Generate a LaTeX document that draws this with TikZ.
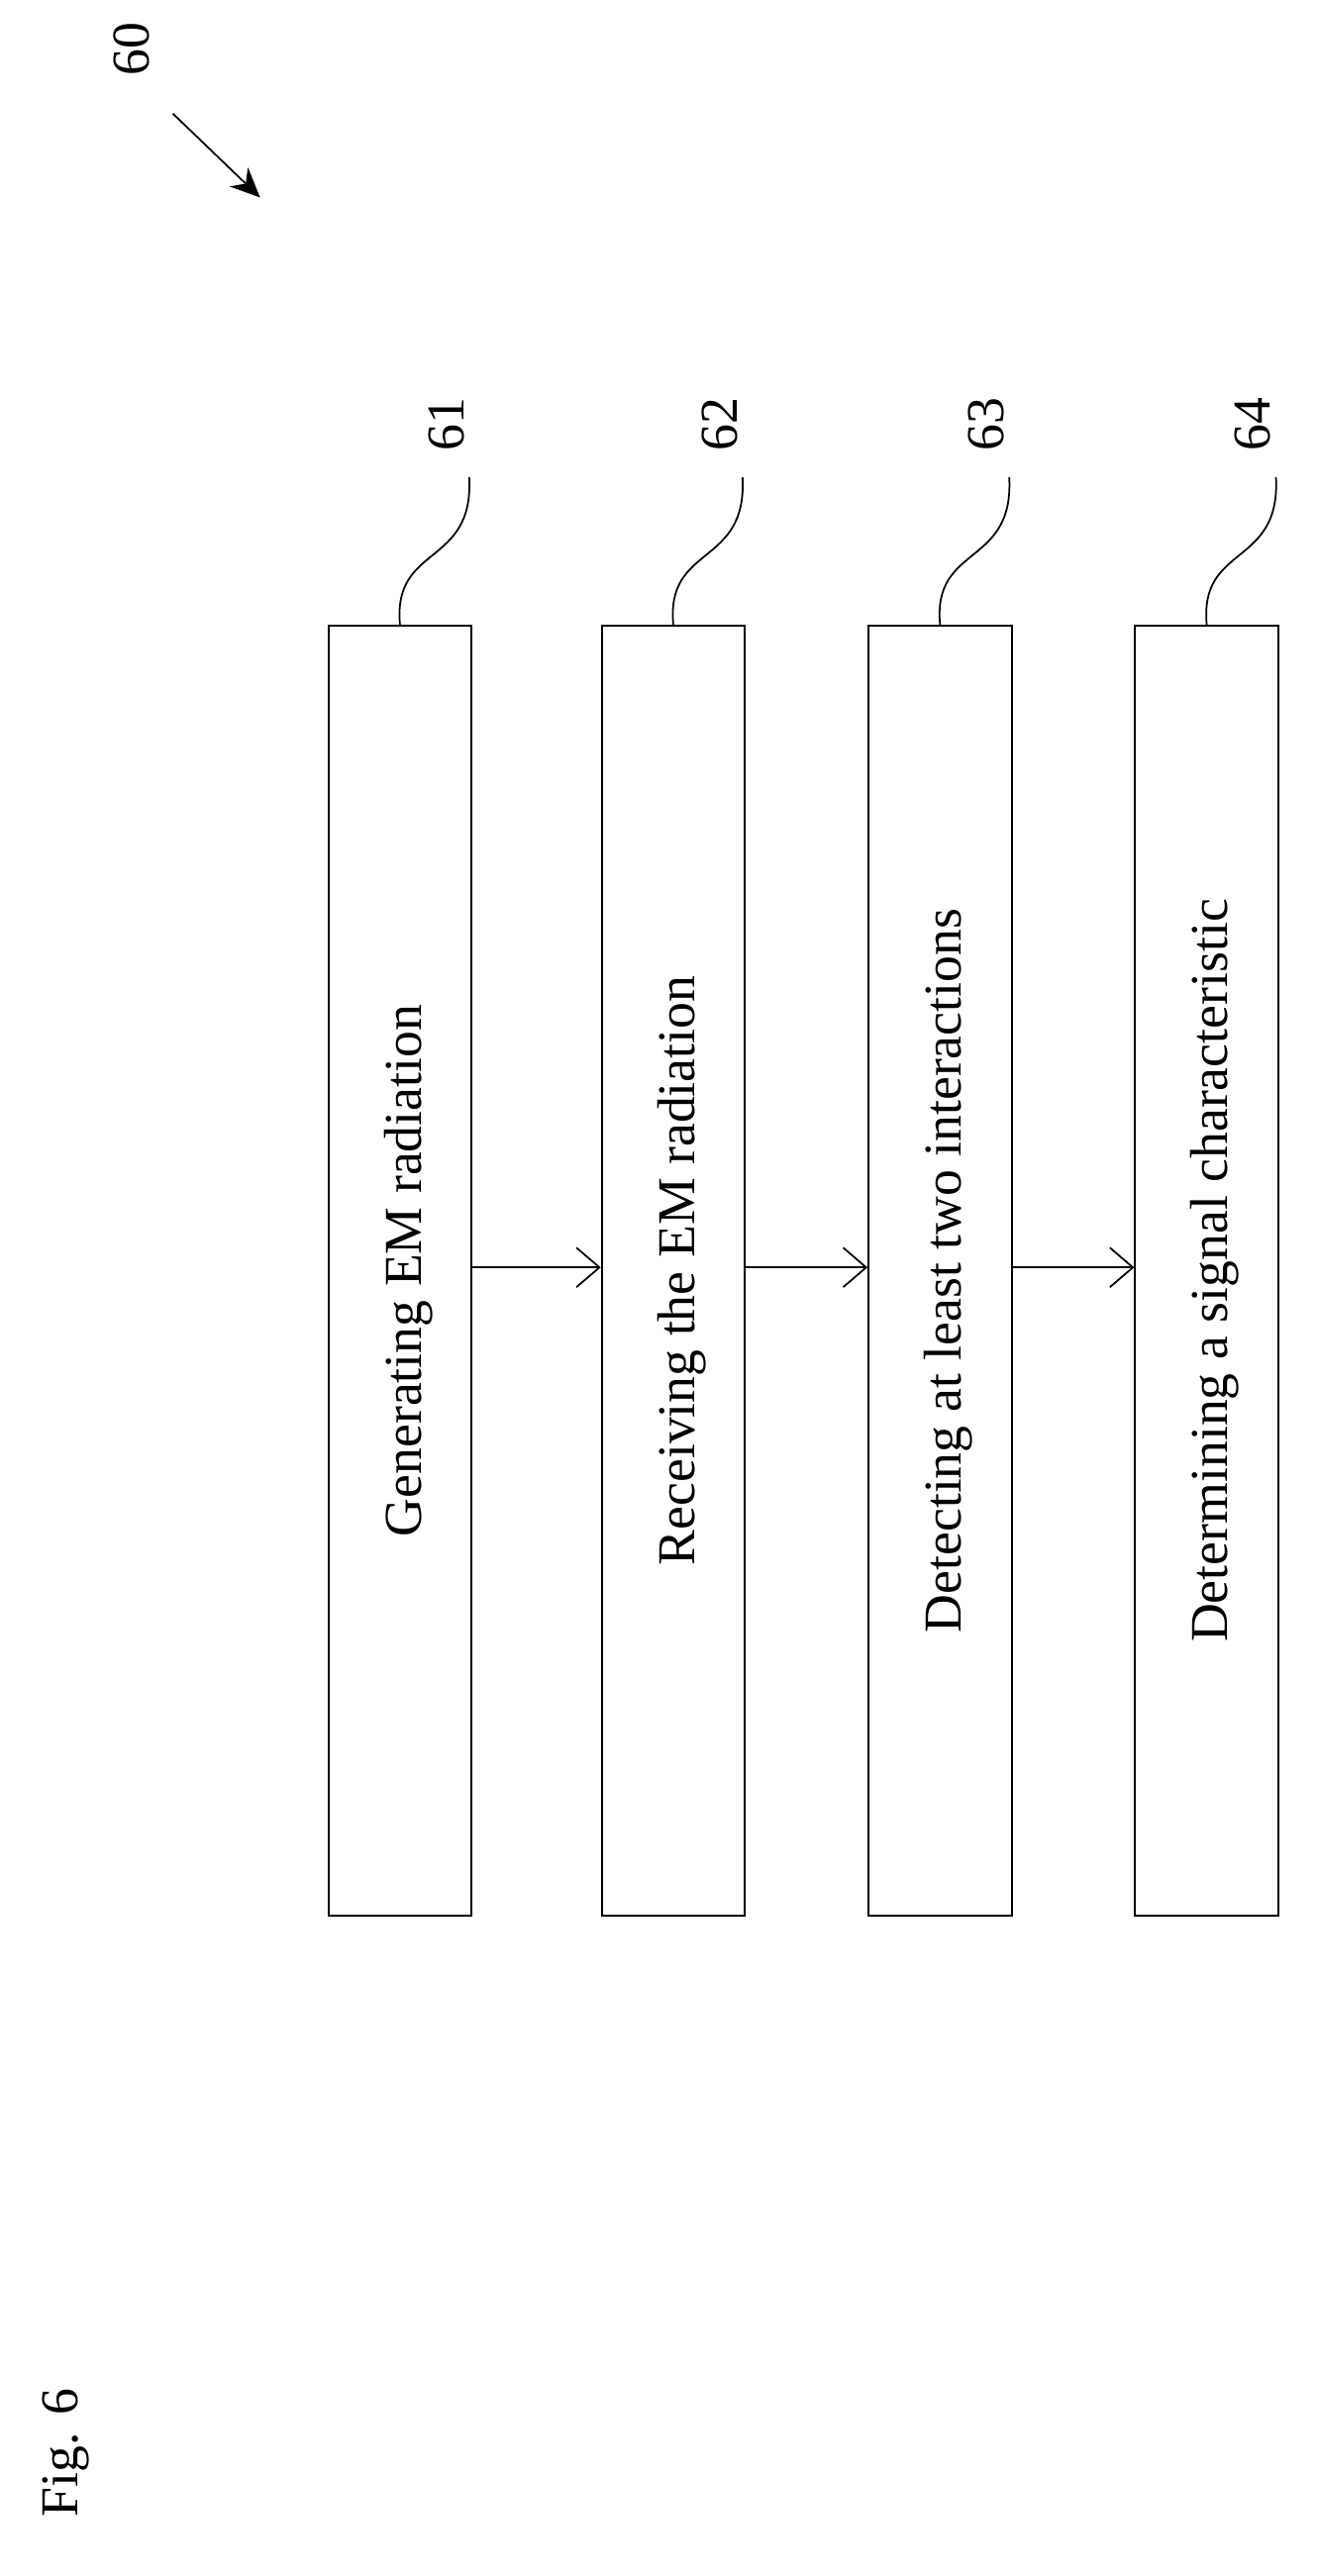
\documentclass[tikz,border=0pt]{standalone}
\usepackage{fontspec}
\setmainfont{Liberation Serif}
\usetikzlibrary{arrows.meta}
\begin{document}
\begin{tikzpicture}[x=0.05cm,y=-0.05cm,
  box/.style={draw,line width=1.6pt,minimum width=4.35cm,minimum height=39.2cm,inner sep=0},
  txt/.style={font=\fontsize{46}{55}\selectfont},
  flow/.style={line width=1.5pt,-{Straight Barb[length=0.7cm,width=1.2cm,line width=1.5pt]}},
  lead/.style={line width=1.5pt}]
\useasboundingbox (0,0) rectangle (800,1565);
\foreach \i/\x/\t in {1/243/Generating EM radiation,2/409/Receiving the EM radiation,3/571/Detecting at least two interactions,4/733/Determining a signal characteristic}{
  \node[box] (b\i) at (\x,772) {};
  \node[txt,rotate=90] (t\i) at (\x+5,772) {\t};
  \coordinate (s\i) at (\x,380);
  \coordinate (e\i) at (\x+42,290);
  \draw[lead] (s\i) .. controls (\x-5,330) and (\x+45,345) .. (e\i);
  \node[txt,rotate=90] (n\i) at (\x+28,258) {6\i};
}
\draw[flow] (b1.east|-0,770) -- (b2.west|-0,770);
\draw[flow] (b2.east|-0,770) -- (b3.west|-0,770);
\draw[flow] (b3.east|-0,770) -- (b4.west|-0,770);
\node[txt,rotate=90] (n60) at (80,30) {60};
\coordinate (a0) at (105,69);
\coordinate (a1) at (158,120);
\draw[line width=1.5pt,-{Stealth[length=0.9cm,width=0.8cm]}] (a0) -- (a1);
\node[txt,rotate=90] (fig) at (40,1490) {Fig. 6};
\end{tikzpicture}
\end{document}
